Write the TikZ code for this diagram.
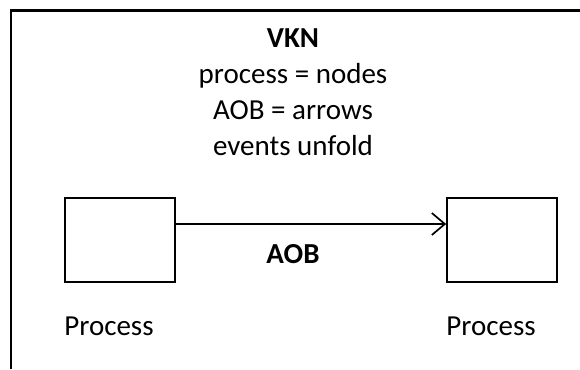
\documentclass[tikz,border=0pt]{standalone}
\usepackage{fontspec}
\setmainfont{Carlito}
\usetikzlibrary{arrows.meta, positioning}

\begin{document}
\begin{tikzpicture}[
  x=1pt, y=-1pt,
  every node/.style={font=\fontsize{29}{36}\selectfont},
  box/.style={rectangle, draw, line width=1.7pt, minimum width=110pt, minimum height=84pt, inner sep=0pt},
  lbl/.style={inner sep=0pt},
  arr/.style={-{Straight Barb[length=13pt, width=22pt, line width=1.7pt]}, line width=1.7pt},
  frame/.style={line width=2.5pt},
]
\useasboundingbox (0,0) rectangle (580,369);

% frame, only its top and left edges show
\coordinate (fa) at (11,369);
\coordinate (fb) at (11,10.5);
\coordinate (fc) at (580,10.5);
\draw[frame] (fa) -- (fb) -- (fc);

% legend text (base = last line)
\node[lbl, align=center, anchor=base] (legend) at (293,155) {\textbf{VKN}\\process = nodes\\AOB = arrows\\events unfold};

% processes
\node[box] (pa) at (120,240) {};
\node[box] (pb) at (502,240) {};

% arrow between them
\draw[arr] ([yshift=16pt]pa.east) -- ([yshift=16pt]pb.west);
\node[lbl, anchor=base] (aob) at (293,263) {\textbf{AOB}};

% labels
\node[lbl, anchor=base west] (la) at (pa.west |- 0,335) {Process};
\node[lbl, anchor=base west] (lb) at (pb.west |- 0,335) {Process};

\end{tikzpicture}
\end{document}
